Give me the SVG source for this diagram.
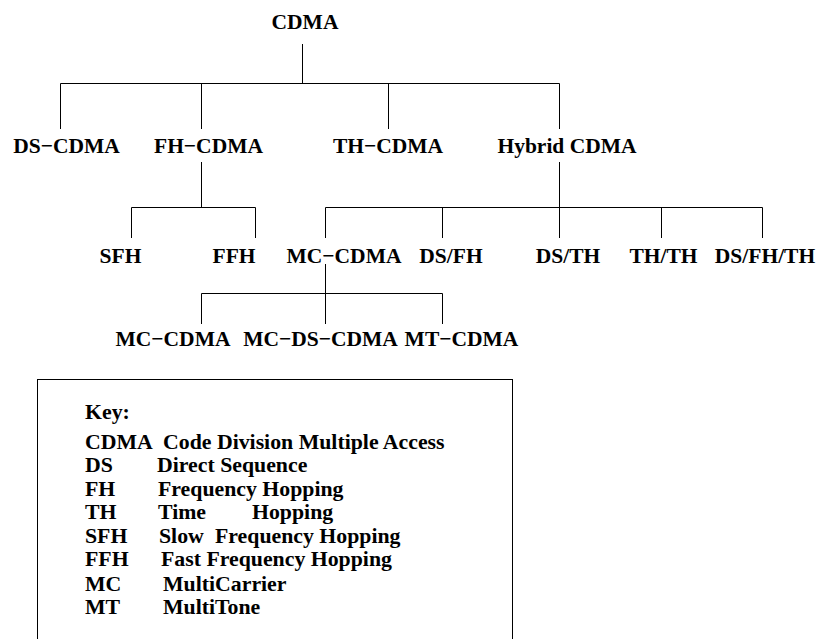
<svg xmlns="http://www.w3.org/2000/svg" width="822" height="639" viewBox="0 0 822 639">
<style>
  .n { font-family: "Liberation Serif", "Times New Roman", serif; font-weight: bold; font-size: 21.5px; fill: #000; text-anchor: middle; }
  .k { font-family: "Liberation Serif", "Times New Roman", serif; font-weight: bold; font-size: 21.8px; fill: #000; }
  .c { stroke: #000; stroke-width: 1; fill: none; }
</style>
<rect width="822" height="639" fill="#fff"/>
<g id="connectors" class="c">
  <path d="M302.5 44V83.5M60.5 83.5H559.5M60.5 83.5V129M201.5 83.5V129M388.5 83.5V129M559.5 83.5V129"/>
  <path d="M201.5 162V207.5M131.5 207.5H255.5M131.5 207.5V238M255.5 207.5V238"/>
  <path d="M559.5 162V238M325.5 207.5H762.5M325.5 207.5V238M442.5 207.5V238M661.5 207.5V238M762.5 207.5V238"/>
  <path d="M325.5 264V324M201.5 293.5H442.5M201.5 293.5V324M442.5 293.5V324"/>
</g>
<g id="n-cdma"><text class="n" x="305" y="29">CDMA</text></g>
<g id="n-ds"><text class="n" x="66.5" y="153">DS−CDMA</text></g>
<g id="n-fh"><text class="n" x="208.5" y="153">FH−CDMA</text></g>
<g id="n-th"><text class="n" x="388" y="153">TH−CDMA</text></g>
<g id="n-hybrid"><text class="n" x="567" y="153">Hybrid CDMA</text></g>
<g id="n-sfh"><text class="n" x="120.5" y="263">SFH</text></g>
<g id="n-ffh"><text class="n" x="234" y="263">FFH</text></g>
<g id="n-mc"><text class="n" x="344" y="263">MC−CDMA</text></g>
<g id="n-dsfh"><text class="n" x="451" y="263">DS/FH</text></g>
<g id="n-dsth"><text class="n" x="568" y="263">DS/TH</text></g>
<g id="n-thth"><text class="n" x="663.5" y="263">TH/TH</text></g>
<g id="n-dsfhth"><text class="n" x="765" y="263">DS/FH/TH</text></g>
<g id="n-mc2"><text class="n" x="173" y="346">MC−CDMA</text></g>
<g id="n-mcds"><text class="n" x="320.5" y="346">MC−DS−CDMA</text></g>
<g id="n-mt"><text class="n" x="461.5" y="346">MT−CDMA</text></g>
<g id="key">
  <rect x="37.5" y="379.5" width="475" height="300" fill="none" stroke="#000" stroke-width="1"/>
  <text class="k" x="85" y="419">Key:</text>
  <text class="k" x="85" y="449">CDMA</text><text class="k" x="163" y="449">Code Division Multiple Access</text>
  <text class="k" x="85" y="472">DS</text><text class="k" x="157" y="472">Direct Sequence</text>
  <text class="k" x="85" y="496">FH</text><text class="k" x="158" y="496">Frequency Hopping</text>
  <text class="k" x="85" y="519">TH</text><text class="k" x="158" y="519">Time</text><text class="k" x="252" y="519">Hopping</text>
  <text class="k" x="85" y="543">SFH</text><text class="k" x="159" y="543">Slow</text><text class="k" x="215" y="543">Frequency Hopping</text>
  <text class="k" x="85" y="566">FFH</text><text class="k" x="161" y="566">Fast Frequency Hopping</text>
  <text class="k" x="85" y="591">MC</text><text class="k" x="163" y="591">MultiCarrier</text>
  <text class="k" x="85" y="614">MT</text><text class="k" x="163" y="614">MultiTone</text>
</g>
</svg>
